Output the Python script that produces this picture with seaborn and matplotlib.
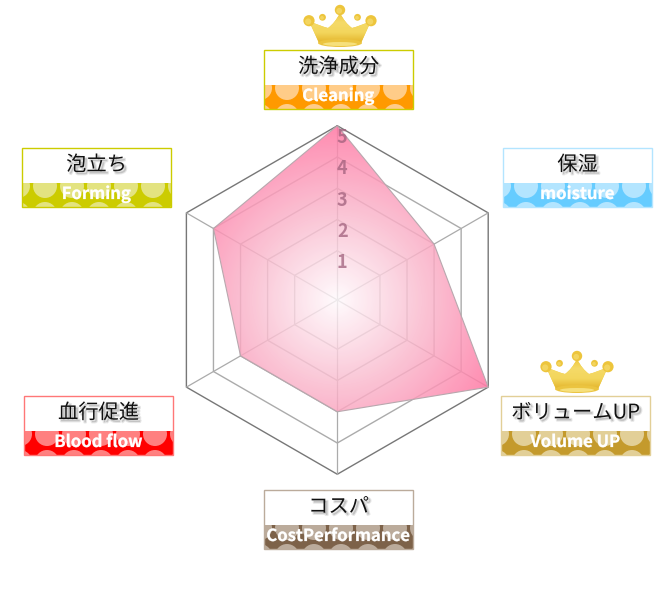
import numpy as np
import seaborn as sns
import matplotlib
matplotlib.use('Agg')
import matplotlib.pyplot as plt
import matplotlib.patheffects as pe
from matplotlib.colors import LinearSegmentedColormap
from matplotlib.patches import Circle, Ellipse, PathPatch, Polygon, Rectangle
from matplotlib.path import Path

# Chart data
categories = ['洗浄成分', '保湿', 'ボリュームUP', 'コスパ', '血行促進', '泡立ち']
categories_en = ['Cleaning', 'moisture', 'Volume UP', 'CostPerformance', 'Blood flow', 'Forming']
scores = [5, 3, 5, 3, 3, 4]
levels = [1, 2, 3, 4, 5]
crowned = ['洗浄成分', 'ボリュームUP']

band_colors = ['#FF9900', '#66CCFF', '#C49A2C', '#7D6249', '#FF0000', '#CCCC00']
dot_colors = ['#FFCC88', '#B3E5FF', '#E2CF97', '#BBAB9B', '#FF8080', '#E3E380']
border_colors = ['#CCCC00', '#B3E5FF', '#E2CF97', '#BBAB9B', '#FF7777', '#CCCC00']
box_left = [264, 503, 501, 264, 24, 22]
box_top = [50, 148, 396, 490, 396, 148]

cx, cy = 337.3, 300
level_step = 31.25
r_zero = 18

sns.set_theme(style='white')
plt.rcParams['font.family'] = ['Noto Sans CJK JP', 'DejaVu Sans']

angles = np.arange(6) * np.pi / 3


def to_xy(value, angle):
    r = r_zero + value * level_step
    return cx + r * np.sin(angle), cy - r * np.cos(angle)


fig = plt.figure(figsize=(6.7, 6.0), dpi=100)
ax = fig.add_axes([0, 0, 1, 1])
ax.axis('off')

# Hexagon grid and spokes
for lv in levels:
    pts = [to_xy(lv, a) for a in angles]
    pts.append(pts[0])
    xs, ys = zip(*pts)
    ax.plot(xs, ys, color='#777777' if lv == 5 else '#ABABAB', lw=1.0, zorder=2)
for a in angles:
    x_end, y_end = to_xy(levels[-1], a)
    ax.plot([cx, x_end], [cy, y_end], color='#ABABAB', lw=0.9, zorder=2)

# Score polygon with radial gradient
score_pts = [to_xy(s, a) for s, a in zip(scores, angles)]
poly = Polygon(score_pts, closed=True, fc='none', ec='#B8A8AE', lw=0.8, zorder=4)
ax.add_patch(poly)
grad_cmap = LinearSegmentedColormap.from_list(
    'pinkfill', [(0, (1, 0.98, 0.99, 0.8)), (0.5, (0.98, 0.72, 0.80, 0.82)), (1, (1.0, 0.47, 0.64, 0.85))])
gx, gy = np.meshgrid(np.linspace(cx - 180, cx + 180, 360), np.linspace(cy - 180, cy + 180, 360))
im = ax.imshow(np.hypot(gx - cx, gy - cy) / 174, extent=(cx - 180, cx + 180, cy + 180, cy - 180),
               cmap=grad_cmap, vmin=0, vmax=1, zorder=3, aspect='auto')
im.set_clip_path(poly)

# Level numbers
for lv in levels:
    x_lv, y_lv = to_xy(lv, 0)
    ax.text(x_lv + 5, y_lv + 12, str(lv), color='#A0607C', alpha=0.75, fontsize=13,
            fontweight='bold', ha='center', va='center', zorder=5)


def draw_box(left, top, name, name_en, band, dot, border):
    w, h, split = 149, 59, 35
    ax.add_patch(Rectangle((left, top), w, split, fc='white', ec='none', zorder=6))
    clip = Rectangle((left, top + split), w, h - split, fc=band, ec='none', zorder=6)
    ax.add_patch(clip)
    for k in range(7):
        for dot_y, r in [(top + 38, 12), (top + 66, 12)]:
            c = Circle((left - 4 + k * 27, dot_y), r, fc=dot, ec='none', zorder=6.1)
            ax.add_patch(c)
            c.set_clip_path(clip)
    ax.add_patch(Rectangle((left, top), w, h, fc='none', ec=border, lw=1.0, zorder=6.2))
    ax.text(left + w / 2, top + 17, name, fontsize=14.6, color='#111111', ha='center', va='center', zorder=7,
            path_effects=[pe.Stroke(offset=(1.6, -1.6), linewidth=1.6, foreground='#777777', alpha=0.18),
                          pe.Normal()])
    ax.text(left + w / 2, top + 46, name_en, fontsize=12, fontweight='bold', color='white',
            ha='center', va='center', zorder=7,
            path_effects=[pe.withStroke(linewidth=0.3, foreground='white', alpha=0.5)])


def draw_crown(xc, box_y):
    # offsets are relative to the crown centre and the top of the label box
    verts = [(-31, -29), (-20, -24), (-12, -22), (-5, -27), (0, -37), (5, -27), (12, -22), (20, -24), (31, -29),
             (26, -18), (21, -7), (-21, -7), (-26, -18), (-31, -29)]
    codes = [Path.MOVETO, Path.CURVE3, Path.CURVE3, Path.CURVE3, Path.CURVE3, Path.CURVE3, Path.CURVE3,
             Path.CURVE3, Path.CURVE3, Path.CURVE3, Path.CURVE3, Path.LINETO, Path.CURVE3, Path.CURVE3]
    body = PathPatch(Path([(xc + x, box_y + y) for x, y in verts], codes), fc='#EFCB45', ec='none', zorder=6)
    ax.add_patch(body)
    crown_cmap = LinearSegmentedColormap.from_list('gold', ['#EFC63A', '#F5DA68', '#F3D65C', '#E3B42A'])
    g = ax.imshow(np.linspace(0, 1, 50).reshape(-1, 1), extent=(xc - 36, xc + 36, box_y - 7, box_y - 38),
                  cmap=crown_cmap, zorder=6.1, aspect='auto')
    g.set_clip_path(body)
    ax.add_patch(Ellipse((xc, box_y - 7), 44, 8, fc='#EBC440', ec='none', zorder=6.2))
    ax.add_patch(Ellipse((xc, box_y - 6), 34, 4, fc='#F6E07C', ec='none', zorder=6.3))
    for dx, dy, r in [(0, -40, 5.2), (-31, -29.3, 5.6), (31, -29.3, 5.6), (-17.5, -32.7, 3.4), (17.5, -32.7, 3.4)]:
        ax.add_patch(Circle((xc + dx, box_y + dy), r, fc='#EDC53C', ec='none', zorder=6.4))
        ax.add_patch(Circle((xc + dx - r * 0.15, box_y + dy + r * 0.15), r * 0.55, fc='#F3D560', ec='none', zorder=6.5))


for i, name in enumerate(categories):
    draw_box(box_left[i], box_top[i], name, categories_en[i], band_colors[i], dot_colors[i], border_colors[i])
    if name in crowned:
        draw_crown(box_left[i] + 76, box_top[i])

ax.set_xlim(0, 670)
ax.set_ylim(600, 0)
fig.savefig('out.png', dpi=100, facecolor='white')
